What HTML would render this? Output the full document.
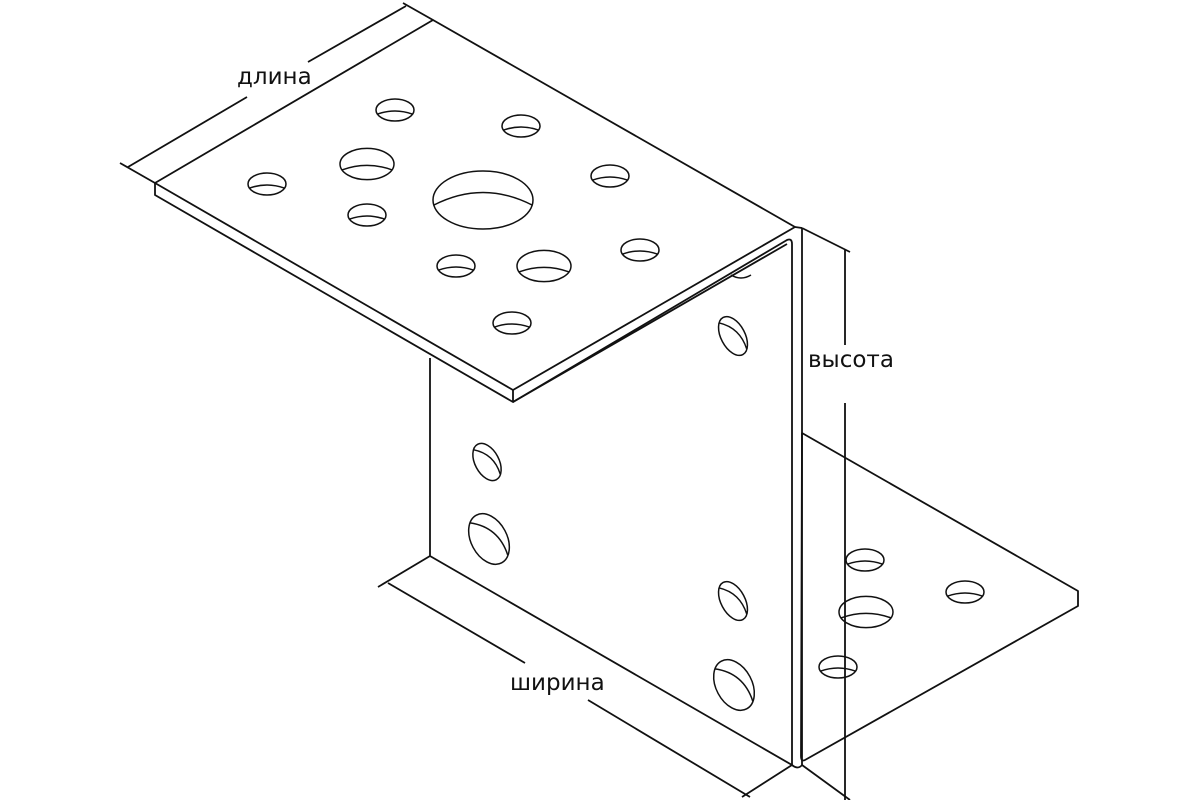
<!DOCTYPE html>
<html><head><meta charset="utf-8"><style>
html,body{margin:0;padding:0;background:#fff}
svg{display:block}
text{font-family:"DejaVu Sans","Liberation Sans",sans-serif;font-size:23px;fill:#111}
</style></head><body>
<svg width="1200" height="800" viewBox="0 0 1200 800" xmlns="http://www.w3.org/2000/svg">
<defs>
<g id="th">
<ellipse cx="0" cy="0" rx="1" ry="0.58" />
<path d="M-0.93,0.22 Q0,-0.12 0.93,0.22" />
</g>
</defs>
<g fill="none" stroke="#111" stroke-width="1.8" stroke-linejoin="round">
<!-- bottom plate -->
<path d="M802,433 L1078,591 L1078,606 L805,760 Q801,762 801,756 Z" fill="#fff"/>
<!-- web front face -->
<path d="M430,358 L430,556 L792,765 L792,244" />
<path d="M802,228 L802,765 Q798,770 792,765" />
<path d="M792,244 Q792,238 787,240 L513,402" />
<path d="M795,227 L802,228" />
<!-- top plate -->
<path d="M155,183 L433,20 L795,227 L513,390 Z" fill="#fff"/>
<path d="M155,183 L155,195 L513,402 L513,390" />
<path d="M513,402 L787,244" />
<!-- length dim -->
<path d="M120,163 L155,183 M403,3 L433,20" />
<path d="M128,167 L247,97 M308,62 L406,6" />
<!-- height dim -->
<path d="M802,228 L850,252 M802,765 L850,800" />
<path d="M845,250 L845,345 M845,403 L845,800" />
<!-- width dim -->
<path d="M430,556 L378,587 M792,765 L742,797" />
<path d="M388,583 L525,663 M588,700 L750,797" />
</g>
<g fill="none" stroke="#111" stroke-width="1.5">
<g transform="translate(395,110) scale(19)" stroke-width="0.08"><use href="#th"/></g>
<g transform="translate(521,126) scale(19)" stroke-width="0.08"><use href="#th"/></g>
<g transform="translate(267,184) scale(19)" stroke-width="0.08"><use href="#th"/></g>
<g transform="translate(367,164) scale(27)" stroke-width="0.055"><use href="#th"/></g>
<g transform="translate(610,176) scale(19)" stroke-width="0.08"><use href="#th"/></g>
<g transform="translate(483,200) scale(50)" stroke-width="0.03"><ellipse cx="0" cy="0" rx="1" ry="0.58"/><path d="M-0.98,0.1 Q0,-0.4 0.98,0.1"/></g>
<g transform="translate(367,215) scale(19)" stroke-width="0.08"><use href="#th"/></g>
<g transform="translate(640,250) scale(19)" stroke-width="0.08"><use href="#th"/></g>
<g transform="translate(456,266) scale(19)" stroke-width="0.08"><use href="#th"/></g>
<g transform="translate(544,266) scale(27)" stroke-width="0.055"><use href="#th"/></g>
<g transform="translate(512,323) scale(19)" stroke-width="0.08"><use href="#th"/></g>
<g transform="translate(865,560) scale(19)" stroke-width="0.08"><use href="#th"/></g>
<g transform="translate(866,612) scale(27)" stroke-width="0.055"><use href="#th"/></g>
<g transform="translate(965,592) scale(19)" stroke-width="0.08"><use href="#th"/></g>
<g transform="translate(838,667) scale(19)" stroke-width="0.08"><use href="#th"/></g>
<path d="M731,275 Q741,281 751,275" />
<g transform="translate(733,336) rotate(-28)"><ellipse rx="12" ry="21"/><path d="M-6,-18 Q10,-4 6,18"/></g>
<g transform="translate(487,462) rotate(-28)"><ellipse rx="12" ry="20"/><path d="M-6,-17 Q10,-4 6,17"/></g>
<g transform="translate(489,539) rotate(-28)"><ellipse rx="18" ry="27"/><path d="M-9,-23 Q14,-6 9,23"/></g>
<g transform="translate(733,601) rotate(-28)"><ellipse rx="12" ry="21"/><path d="M-6,-18 Q10,-4 6,18"/></g>
<g transform="translate(734,685) rotate(-28)"><ellipse rx="18" ry="27"/><path d="M-9,-23 Q14,-6 9,23"/></g>
</g>
<text x="237" y="84">длина</text>
<text x="808" y="367">высота</text>
<text x="510" y="690">ширина</text>
</svg>
</body></html>
